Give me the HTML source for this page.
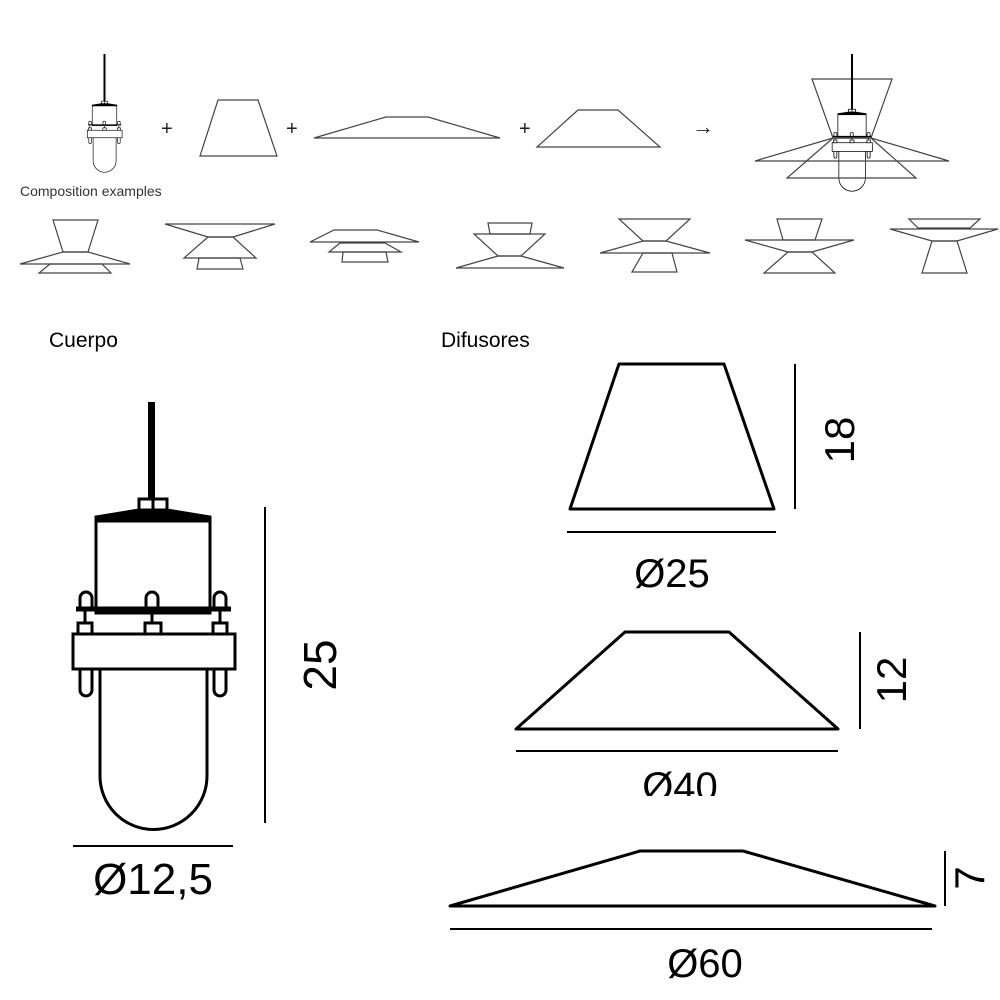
<!DOCTYPE html>
<html><head><meta charset="utf-8"><style>
html,body{margin:0;padding:0;background:#fff;}
svg{display:block;}
text{font-family:"Liberation Sans",sans-serif;}
</style></head><body>
<svg width="1000" height="1000" viewBox="0 0 1000 1000" xmlns="http://www.w3.org/2000/svg">
<defs>
<g id="lamp" fill="none" stroke="#000" stroke-width="3">
  <path d="M139,512 L139,499 L167,499 L167,512" fill="#fff"/>
  <line x1="153" y1="499" x2="153" y2="512"/>
  <path d="M96,517 L96,521 L210,521 L210,517 L167,510 L139,510 Z" fill="#000"/>
  <rect x="96" y="521" width="114" height="92" fill="#fff"/>
  <path d="M100,669 L100,776 A53.5,53.5 0 0 0 207,776 L207,669" fill="#fff"/>
  <rect x="73" y="634" width="162" height="35" fill="#fff"/>
  <rect x="78" y="623" width="14" height="11" fill="#fff"/>
  <rect x="145" y="623" width="16" height="11" fill="#fff"/>
  <rect x="213" y="623" width="14" height="11" fill="#fff"/>
  <path d="M80,608 L80,598 A6,6 0 0 1 92,598 L92,608"/>
  <path d="M146,608 L146,598 A6,6 0 0 1 158,598 L158,608"/>
  <path d="M214,608 L214,598 A6,6 0 0 1 226,598 L226,608"/>
  <line x1="85" y1="611" x2="85" y2="623"/><line x1="152" y1="611" x2="152" y2="623"/><line x1="220" y1="611" x2="220" y2="623"/>
  <line x1="76" y1="609" x2="231" y2="609" stroke-width="5"/>
  <path d="M80,669 L80,690 A6,6 0 0 0 92,690 L92,669"/>
  <path d="M214,669 L214,690 A6,6 0 0 0 226,690 L226,669"/>
</g>
</defs>

<!-- top row -->
<line x1="104.5" y1="54" x2="104.5" y2="102" stroke="#000" stroke-width="2"/>
<g transform="translate(104.5,101) scale(0.215) translate(-153,-498)"><use href="#lamp"/></g>
<g font-size="20" fill="#222"><text x="161" y="135">+</text><text x="286" y="135">+</text><text x="519" y="135">+</text></g>
<text x="692" y="134" font-size="22" fill="#222">→</text>
<g fill="none" stroke="#444" stroke-width="1.2">
<polygon points="218,100 258,100 277,156 200,156"/>
<polygon points="386,117 428,117 500,138 314,138"/>
<polygon points="578,110 618,110 660,147 537,147"/>
<!-- composed -->
<polygon points="812,79 892,79 871,138 833,138"/>
</g>
<line x1="852" y1="54" x2="852" y2="112" stroke="#000" stroke-width="2"/>
<g transform="translate(852,109) scale(0.248) translate(-153,-498)"><use href="#lamp"/></g>
<g fill="none" stroke="#444" stroke-width="1.2">
<polygon points="833,138 871,138 949,161 755,161"/>
<polygon points="833,138 871,138 916,178 787,178"/>
</g>
<text x="20" y="196" font-size="14" fill="#333">Composition examples</text>

<g fill="none" stroke="#444" stroke-width="1.2">
<polygon points="53,220 98,220 88,252 63,252"/>
<polygon points="63,252 88,252 130,264 20,264"/>
<polygon points="50,264 102,264 111,273 39,273"/>

<polygon points="165,224 275,224 233,237 208,237"/>
<polygon points="208,237 233,237 256,258 184,258"/>
<polygon points="199,258 240,258 243,269 197,269"/>

<polygon points="334,230 377,230 419,242 310,242"/>
<polygon points="340,243 385,243 401,252 329,252"/>
<polygon points="343,252 386,252 388,262 342,262"/>

<polygon points="488,223 532,223 530,234 490,234"/>
<polygon points="474,234 545,234 521,256 498,256"/>
<polygon points="498,256 521,256 564,268 456,268"/>

<polygon points="619,219 690,219 666,241 643,241"/>
<polygon points="643,241 666,241 710,253 600,253"/>
<polygon points="643,253 672,253 677,272 632,272"/>

<polygon points="777,219 822,219 815,240 783,240"/>
<polygon points="745,240 854,240 812,252 788,252"/>
<polygon points="788,252 812,252 835,273 764,273"/>

<polygon points="909,219 980,219 970,228 918,228"/>
<polygon points="890,229 998,229 957,241 932,241"/>
<polygon points="932,241 957,241 967,273 922,273"/>
</g>

<!-- labels -->
<text x="49" y="347" font-size="21" fill="#000">Cuerpo</text>
<text x="441" y="347" font-size="21" fill="#000">Difusores</text>

<!-- big lamp -->
<rect x="148" y="402" width="7" height="98" fill="#000"/>
<use href="#lamp"/>
<g stroke="#000" stroke-width="2">
<line x1="265" y1="507" x2="265" y2="823"/>
<line x1="73" y1="846" x2="233" y2="846"/>
</g>
<text transform="translate(336,665) rotate(-90)" font-size="46" text-anchor="middle">25</text>
<text x="153" y="894" font-size="44" text-anchor="middle">Ø12,5</text>

<!-- diffusors -->
<g fill="none" stroke="#000" stroke-width="3" stroke-linejoin="round">
<polygon points="619,364 724,364 774,509 570,509"/>
<polygon points="625,632 729,632 838,729 516,729"/>
<polygon points="640,851 743,851 935,906 450,906"/>
</g>
<g stroke="#000" stroke-width="2">
<line x1="795" y1="364" x2="795" y2="509"/>
<line x1="567" y1="532" x2="776" y2="532"/>
<line x1="860" y1="632" x2="860" y2="729"/>
<line x1="516" y1="751" x2="838" y2="751"/>
<line x1="945" y1="851" x2="945" y2="906"/>
<line x1="450" y1="929" x2="932" y2="929"/>
</g>
<text transform="translate(854,440) rotate(-90)" font-size="42" text-anchor="middle">18</text>
<text x="672" y="587" font-size="40" text-anchor="middle">Ø25</text>
<text transform="translate(906,680) rotate(-90)" font-size="42" text-anchor="middle">12</text>
<text x="680" y="800" font-size="40" text-anchor="middle">Ø40</text>
<rect x="630" y="796" width="100" height="20" fill="#fff"/>
<text transform="translate(984,878) rotate(-90)" font-size="42" text-anchor="middle">7</text>
<text x="705" y="977" font-size="40" text-anchor="middle">Ø60</text>
</svg>
</body></html>
